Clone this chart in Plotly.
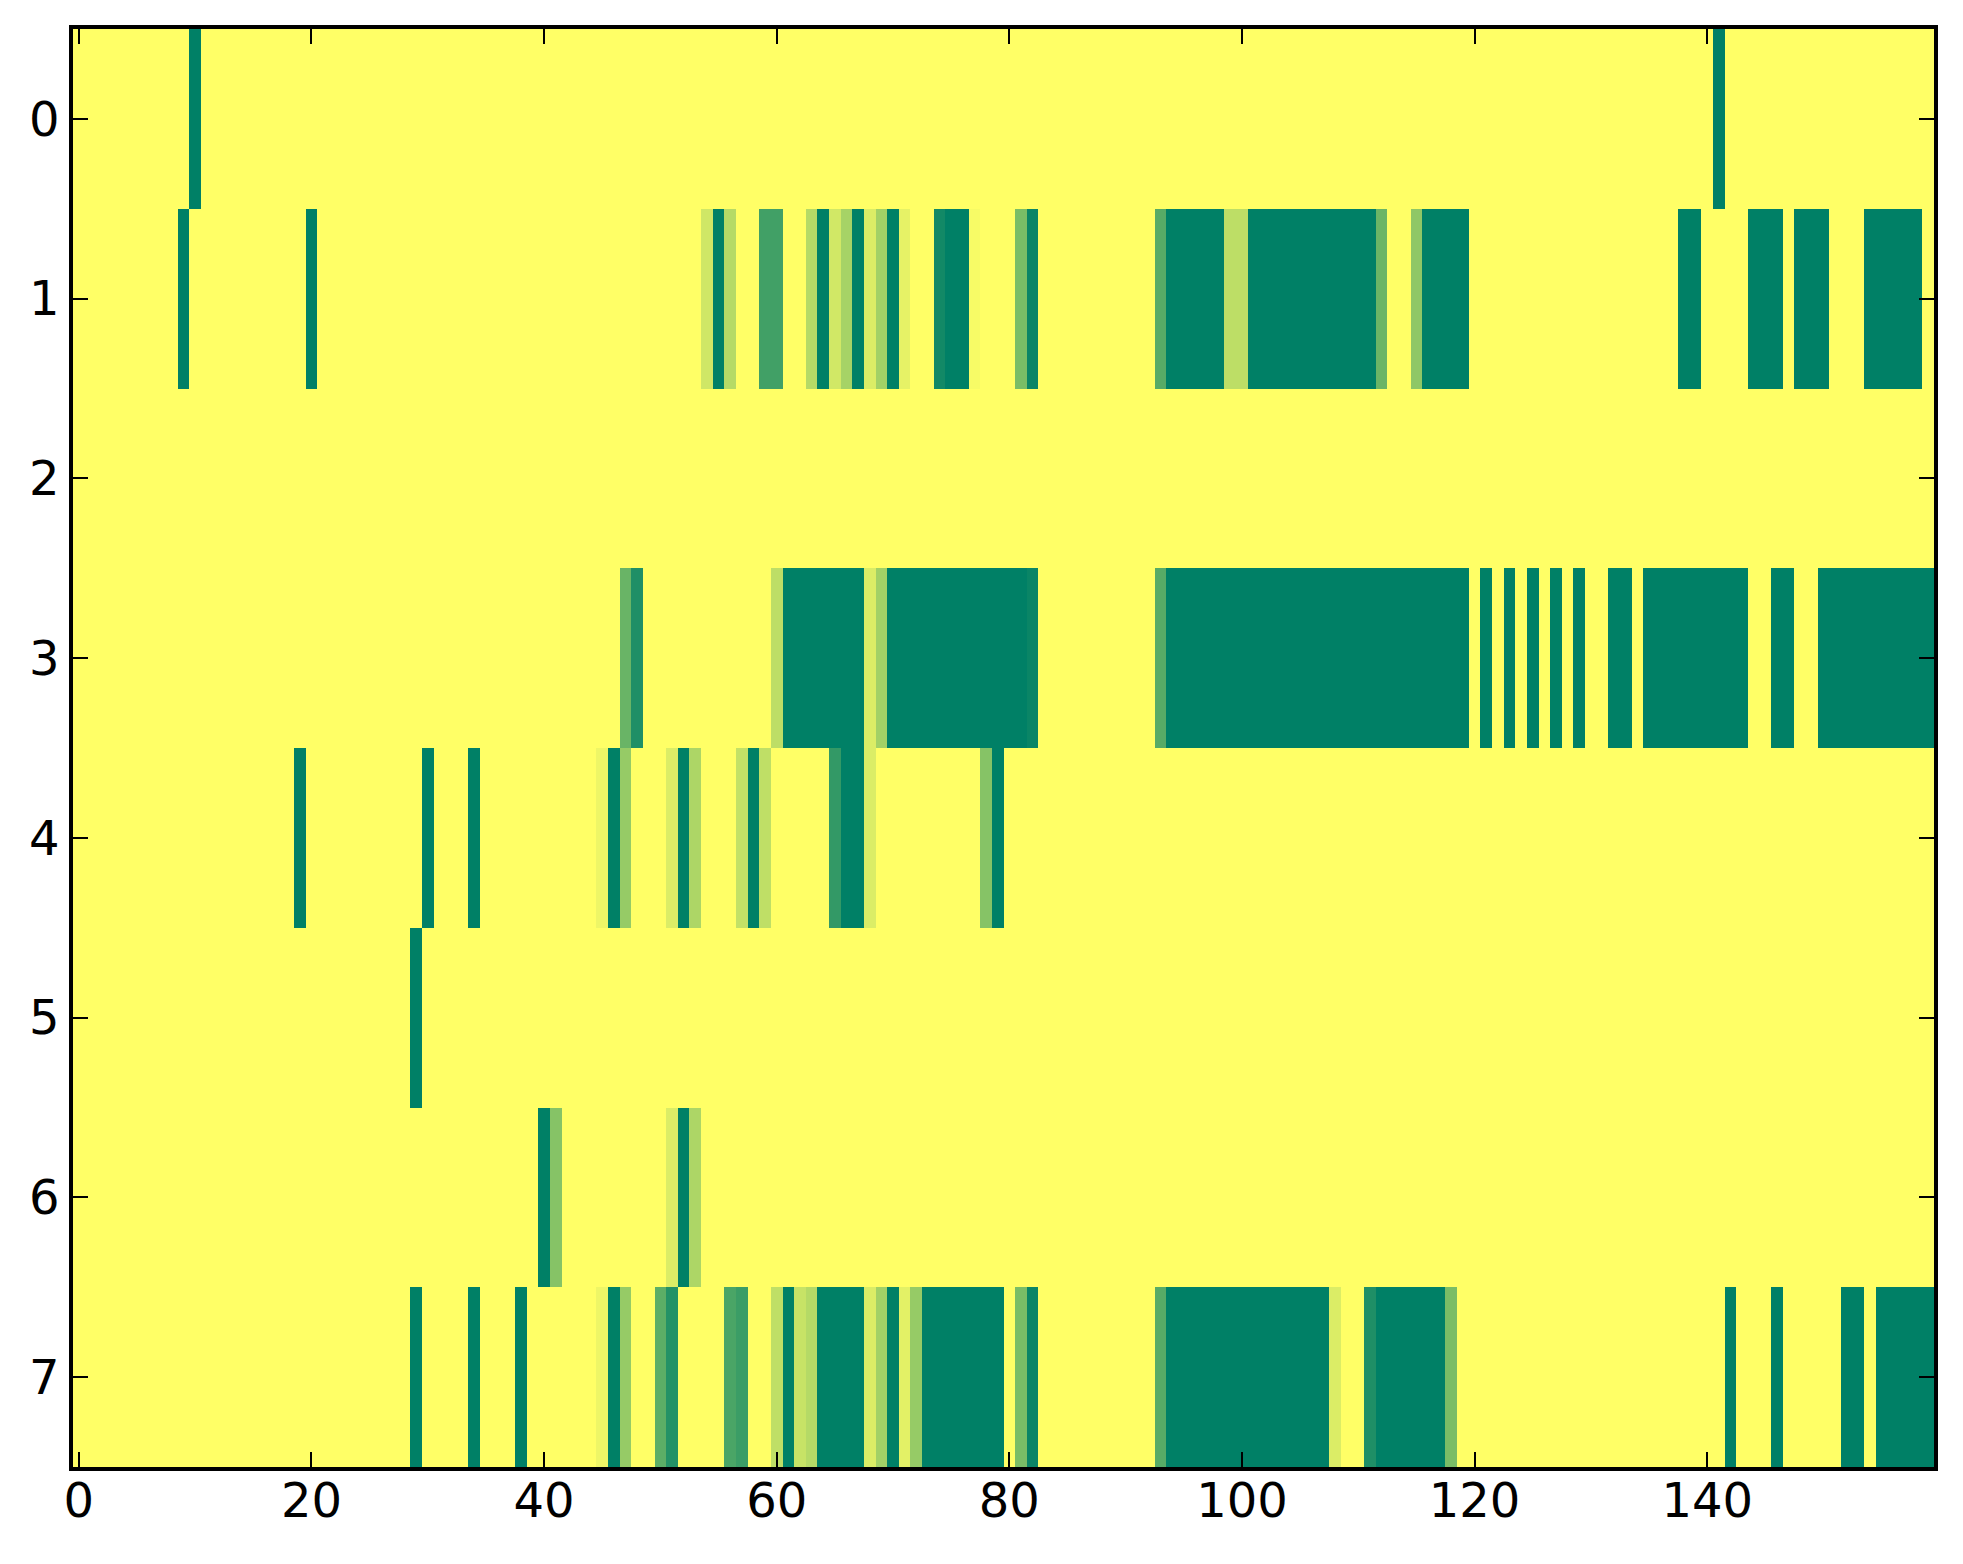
import plotly.graph_objects as go

n_rows = 8
n_cols = 160

# Runs of non-zero cells per row: (first_col, last_col, value); all other cells are 0
row0 = [(10, 10, 1.0), (141, 141, 1.0)]
row1 = [(9, 9, 1.0), (20, 20, 1.0), (54, 54, 0.19), (55, 55, 1.0), (56, 56, 0.29),
        (59, 60, 0.745), (63, 63, 0.29), (64, 64, 1.0), (65, 65, 0.18), (66, 66, 0.35),
        (67, 67, 1.0), (68, 68, 0.14), (69, 69, 0.365), (70, 70, 1.0), (71, 71, 0.10),
        (74, 74, 0.93), (75, 76, 1.0), (77, 77, 0.03), (81, 81, 0.52), (82, 82, 0.957),
        (93, 93, 0.66), (94, 98, 1.0), (99, 100, 0.26), (101, 111, 1.0), (112, 112, 0.58),
        (115, 115, 0.44), (116, 119, 1.0), (138, 139, 1.0), (144, 146, 1.0),
        (148, 150, 1.0), (154, 158, 1.0)]
row2 = []
row3 = [(47, 47, 0.59), (48, 48, 0.88), (60, 60, 0.26), (61, 67, 1.0), (68, 68, 0.14),
        (69, 69, 0.365), (70, 81, 1.0), (82, 82, 0.96), (93, 93, 0.66), (94, 119, 1.0),
        (121, 121, 1.0), (123, 123, 1.0), (125, 125, 1.0), (127, 127, 1.0),
        (129, 129, 1.0), (132, 133, 1.0), (135, 143, 1.0), (146, 147, 1.0),
        (150, 159, 1.0)]
row4 = [(19, 19, 1.0), (30, 30, 1.0), (34, 34, 1.0), (45, 45, 0.067), (46, 46, 1.0),
        (47, 47, 0.41), (51, 51, 0.14), (52, 52, 1.0), (53, 53, 0.32), (57, 57, 0.235),
        (58, 58, 1.0), (59, 59, 0.25), (65, 65, 0.80), (66, 67, 1.0), (68, 68, 0.14),
        (78, 78, 0.475), (79, 79, 1.0)]
row5 = [(29, 29, 1.0)]
row6 = [(40, 40, 1.0), (41, 41, 0.475), (51, 51, 0.14), (52, 52, 1.0), (53, 53, 0.32)]
row7 = [(29, 29, 1.0), (34, 34, 1.0), (38, 38, 1.0), (45, 45, 0.067), (46, 46, 1.0),
        (47, 47, 0.41), (50, 50, 0.64), (51, 51, 0.86), (56, 56, 0.71), (57, 57, 0.77),
        (60, 60, 0.25), (61, 61, 1.0), (62, 62, 0.22), (63, 63, 0.29), (64, 67, 1.0),
        (68, 68, 0.14), (69, 69, 0.365), (70, 70, 1.0), (71, 71, 0.11), (72, 72, 0.41),
        (73, 79, 1.0), (81, 81, 0.52), (82, 82, 0.957), (93, 93, 0.66), (94, 107, 1.0),
        (108, 108, 0.14), (111, 111, 0.88), (112, 117, 1.0), (118, 118, 0.52),
        (142, 142, 1.0), (146, 146, 1.0), (152, 153, 1.0), (155, 159, 1.0)]

rows = [row0, row1, row2, row3, row4, row5, row6, row7]

x_ticks = [0, 20, 40, 60, 80, 100, 120, 140]
y_ticks = [0, 1, 2, 3, 4, 5, 6, 7]

z = []
for runs in rows:
    line = [0.0] * n_cols
    for a, b, v in runs:
        for c in range(a, b + 1):
            line[c] = v
    z.append(line)

# matplotlib 'summer_r'
colorscale = [[0.0, "#ffff66"], [1.0, "#008066"]]

fig = go.Figure(go.Heatmap(
    z=z, x=list(range(n_cols)), y=list(range(n_rows)),
    colorscale=colorscale, zmin=0, zmax=1, showscale=False, zsmooth=False,
    hoverinfo="skip"))

axis_common = dict(
    showline=True, linecolor="black", linewidth=3.5, mirror="ticks",
    ticks="inside", ticklen=15, tickwidth=1.5, tickcolor="black",
    showgrid=False, zeroline=False,
    tickfont=dict(family="DejaVu Sans", size=48, color="black"),
)

fig.update_xaxes(range=[-0.5, n_cols - 0.5], tickvals=x_ticks,
                 ticktext=[str(t) for t in x_ticks], ticklabelstandoff=-11,
                 **axis_common)
fig.update_yaxes(range=[n_rows - 0.5, -0.5], tickvals=y_ticks,
                 ticktext=[str(t) for t in y_ticks], **axis_common)

fig.update_layout(
    width=1947, height=1548,
    margin=dict(l=65, r=21, t=21, b=89),
    paper_bgcolor="white", plot_bgcolor="white",
    font=dict(family="DejaVu Sans"),
)

fig.write_html("out.html")
